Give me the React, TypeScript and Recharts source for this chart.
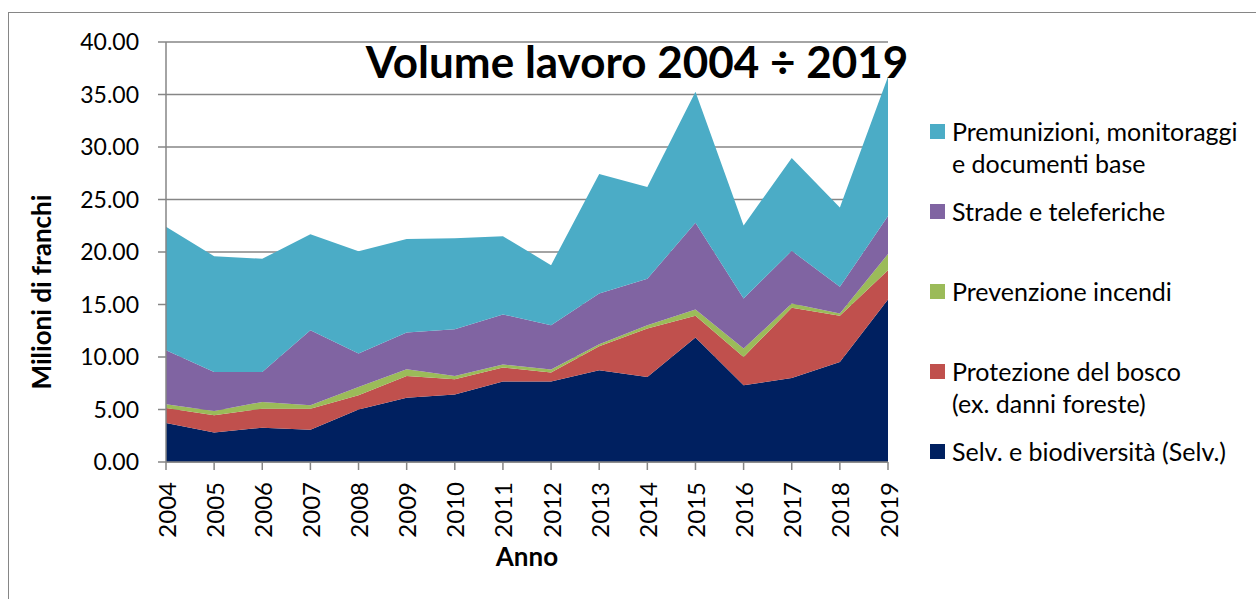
import { Area, AreaChart, CartesianGrid, Legend, XAxis, YAxis } from "recharts"

const years = ["2004", "2005", "2006", "2007", "2008", "2009", "2010", "2011", "2012", "2013", "2014", "2015", "2016", "2017", "2018", "2019"]

// milioni di franchi per categoria
const selv = [3.72, 2.8, 3.27, 3.08, 4.99, 6.13, 6.42, 7.66, 7.66, 8.74, 8.1, 11.85, 7.31, 8.01, 9.53, 15.47]
const protezione = [1.43, 1.65, 1.81, 2.0, 1.37, 2.07, 1.46, 1.33, 0.86, 2.29, 4.61, 2.07, 2.7, 6.67, 4.39, 2.8]
const prevenzione = [0.35, 0.41, 0.64, 0.32, 0.79, 0.63, 0.32, 0.29, 0.28, 0.19, 0.32, 0.6, 0.79, 0.41, 0.22, 1.53]
const strade = [5.14, 3.72, 2.86, 7.15, 3.18, 3.5, 4.45, 4.77, 4.23, 4.83, 4.42, 8.26, 4.77, 5.02, 2.54, 3.62]
const premunizioni = [11.76, 11.02, 10.77, 9.15, 9.75, 8.9, 8.67, 7.45, 5.72, 11.37, 8.75, 12.49, 6.96, 8.84, 7.57, 13.28]

const yTicks = [0, 5, 10, 15, 20, 25, 30, 35, 40]

const series = [
  { key: "selv", name: "Selv. e biodiversità (Selv.)", color: "#002060", values: selv },
  { key: "protezione", name: "Protezione del bosco\n(ex. danni foreste)", color: "#C0504D", values: protezione },
  { key: "prevenzione", name: "Prevenzione incendi", color: "#9BBB59", values: prevenzione },
  { key: "strade", name: "Strade e teleferiche", color: "#8064A2", values: strade },
  { key: "premunizioni", name: "Premunizioni, monitoraggi\ne documenti base", color: "#4BACC6", values: premunizioni },
]

const data = years.map((year, i) => {
  const row: Record<string, string | number> = { year }
  series.forEach((s) => {
    row[s.key] = s.values[i]
  })
  return row
})

const font = "Lato, 'Noto Sans', sans-serif"
const grey = "#868686"

function YearTick({ x, y, payload }: any) {
  return (
    <g transform={`translate(${x},${y})`}>
      <text transform="rotate(-90)" x={-10} textAnchor="end" dominantBaseline="central" fontSize={24} fontFamily={font} fill="#000">
        {payload.value}
      </text>
    </g>
  )
}

function LegendBox() {
  const items = [...series].reverse()
  return (
    <div style={{ fontFamily: font, fontSize: 25, color: "#000" }}>
      {items.map((s) => (
        <div key={s.key} style={{ display: "flex", height: 80, alignItems: "flex-start" }}>
          <div style={{ width: 15, height: 15, background: s.color, marginTop: 8, marginRight: 7, flexShrink: 0 }} />
          <div style={{ whiteSpace: "pre-line", lineHeight: "32px", marginTop: -1 }}>{s.name}</div>
        </div>
      ))}
    </div>
  )
}

export default function App() {
  return (
    <div style={{ position: "fixed", left: 0, top: 0, width: 1256, height: 599, overflow: "hidden", background: "#fff" }}>
      <div
        style={{
          position: "absolute",
          left: 8,
          top: 12,
          width: 1300,
          height: 700,
          borderLeft: `1.5px solid ${grey}`,
          borderTop: `1.5px solid ${grey}`,
        }}
      />
      <div style={{ position: "absolute", left: 0, top: 0 }}>
        <AreaChart width={1256} height={599} data={data} margin={{ top: 42, right: 368, bottom: 77, left: 66 }}>
          <CartesianGrid vertical={false} stroke={grey} strokeWidth={1.5} />
          <XAxis
            dataKey="year"
            interval={0}
            height={60}
            tickSize={8}
            stroke={grey}
            strokeWidth={1.5}
            tick={<YearTick />}
          />
          <YAxis
            width={100}
            domain={[0, 40]}
            ticks={yTicks}
            interval={0}
            tickSize={8}
            tickMargin={19}
            stroke={grey}
            strokeWidth={1.5}
            tickFormatter={(v) => Number(v).toFixed(2)}
            tick={{ fontSize: 23, fontFamily: font, fill: "#000" }}
          />
          {series.map((s) => (
            <Area
              key={s.key}
              type="linear"
              dataKey={s.key}
              name={s.name}
              stackId="1"
              stroke="none"
              fill={s.color}
              fillOpacity={1}
              isAnimationActive={false}
            />
          ))}
          <Legend
            layout="vertical"
            align="center"
            verticalAlign="middle"
            content={() => <LegendBox />}
            wrapperStyle={{ left: 930, top: 116, width: 326, height: 400 }}
          />
        </AreaChart>
      </div>
      <svg width={1256} height={599} style={{ position: "absolute", left: 0, top: 0, pointerEvents: "none" }}>
        <text x={637} y={78} textAnchor="middle" fontSize={44} fontWeight="bold" fontFamily={font} fill="#000">
          Volume lavoro 2004 ÷ 2019
        </text>
        <text
          transform="translate(41,292) rotate(-90)"
          textAnchor="middle"
          dominantBaseline="central"
          fontSize={26}
          fontWeight="bold"
          fontFamily={font}
          fill="#000"
        >
          Milioni di franchi
        </text>
        <text x={527} y={566} textAnchor="middle" fontSize={26} fontWeight="bold" fontFamily={font} fill="#000">
          Anno
        </text>
      </svg>
    </div>
  )
}
